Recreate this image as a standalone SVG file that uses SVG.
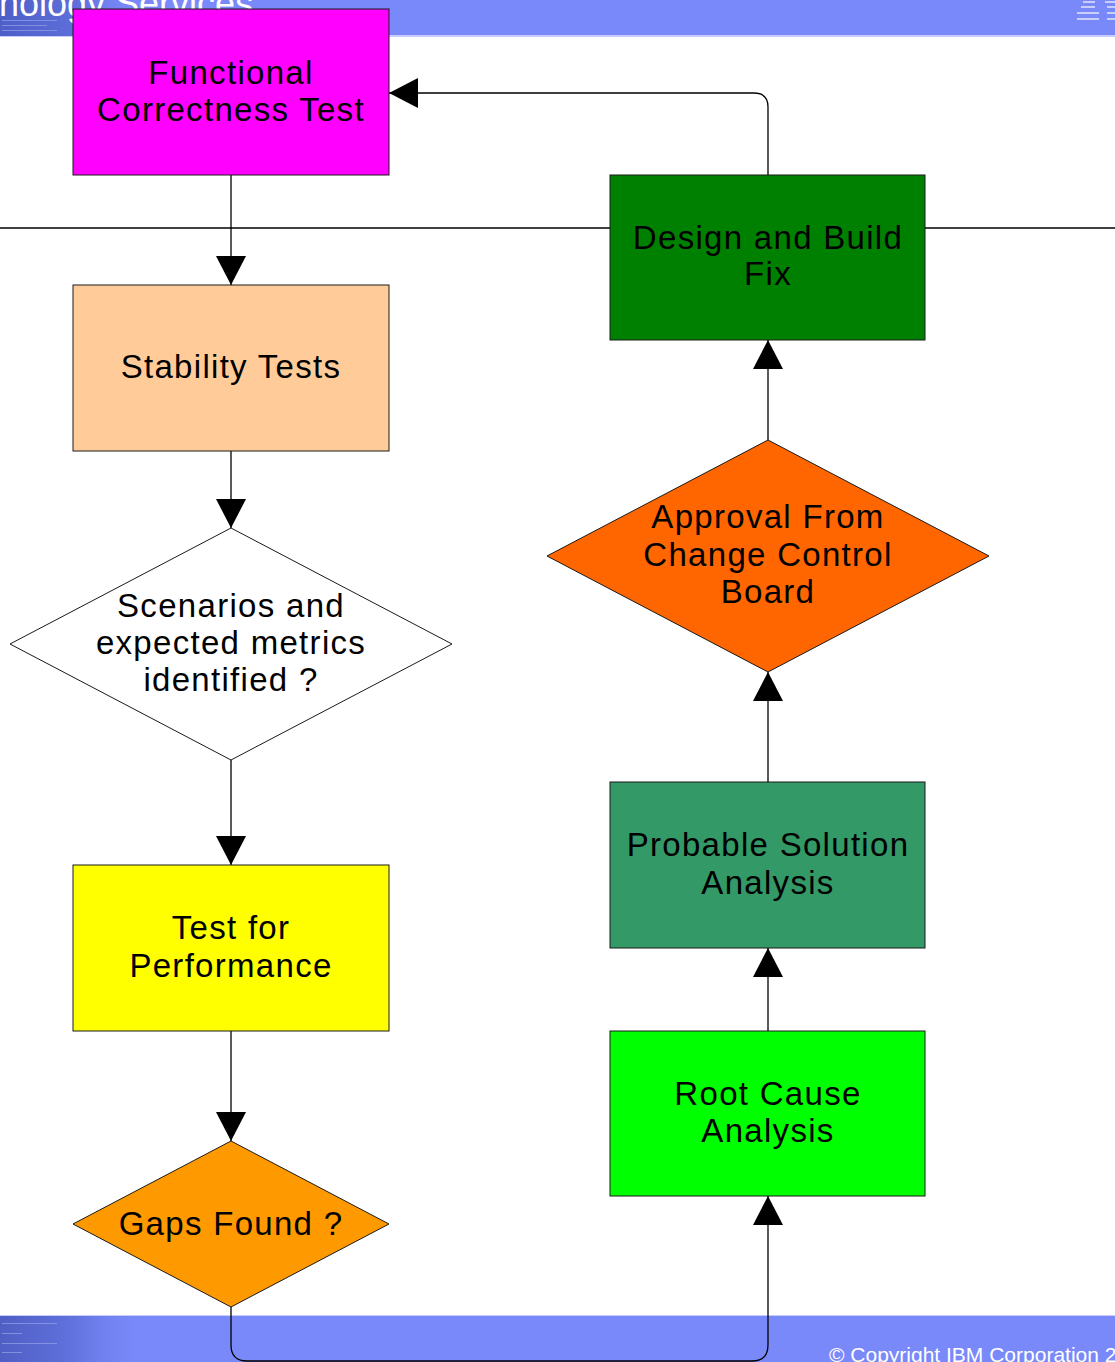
<svg xmlns="http://www.w3.org/2000/svg" width="1115" height="1362" viewBox="0 0 1115 1362">
  <defs>
    <marker id="arr" markerUnits="userSpaceOnUse" markerWidth="30" markerHeight="30" refX="29" refY="15" orient="auto">
      <path d="M0,0 L29,15 L0,30 Z" fill="#000"/>
    </marker>
    <linearGradient id="hdrL" x1="0" y1="0" x2="1" y2="0">
      <stop offset="0" stop-color="#4f5fc8"/>
      <stop offset="0.6" stop-color="#6070dc"/>
      <stop offset="1" stop-color="#7a89f9" stop-opacity="0"/>
    </linearGradient>
    <linearGradient id="ftrL" x1="0" y1="0" x2="1" y2="0">
      <stop offset="0" stop-color="#4f5fc4"/>
      <stop offset="0.5" stop-color="#6272de"/>
      <stop offset="1" stop-color="#7a89f9" stop-opacity="0"/>
    </linearGradient>
    <style>
      .node { stroke: #1a1a1a; stroke-width: 1; }
      .lbl { font-family: "Liberation Sans", Arial, sans-serif; font-size: 33px; letter-spacing: 1.3px; text-anchor: middle; fill: #000; }
      .conn { fill: none; stroke: #000; stroke-width: 1.3; }
      .deco { fill: #c9cff8; }
    </style>
  </defs>

  <!-- background bands -->
  <rect x="0" y="0" width="1115" height="1362" fill="#ffffff"/>
  <rect x="0" y="0" width="1115" height="36" fill="#7a89f9"/>
  <rect x="0" y="35" width="1115" height="2" fill="#c8cdfb"/>
  <rect x="0" y="0" width="140" height="36" fill="url(#hdrL)"/>
  <g fill="#8f9be6" opacity="0.8">
    <rect x="2" y="20" width="55" height="1"/>
    <rect x="2" y="25" width="45" height="1"/>
    <rect x="2" y="30" width="55" height="1"/>
  </g>
  <text x="-1" y="16" font-family="'Liberation Sans', Arial, sans-serif" font-size="36" fill="#ffffff">nology Services</text>
  <g class="deco">
    <rect x="1083" y="1" width="12" height="2"/>
    <rect x="1081" y="6" width="14" height="2"/>
    <rect x="1077" y="12" width="22" height="2"/>
    <rect x="1077" y="18" width="22" height="2"/>
    <rect x="1105" y="1" width="10" height="2"/>
    <rect x="1107" y="6" width="8" height="2"/>
    <rect x="1107" y="12" width="8" height="2"/>
    <rect x="1107" y="18" width="8" height="2"/>
  </g>

  <rect x="0" y="1315" width="1115" height="47" fill="#7a89f9"/>
  <rect x="0" y="1315" width="1115" height="1" fill="#c8cdfb"/>
  <rect x="0" y="1316" width="150" height="46" fill="url(#ftrL)"/>
  <g fill="#8f9be6" opacity="0.8">
    <rect x="2" y="1323" width="55" height="1"/>
    <rect x="2" y="1333" width="20" height="1"/>
    <rect x="2" y="1343" width="55" height="1"/>
    <rect x="2" y="1352" width="20" height="1"/>
  </g>
  <text x="829" y="1362" font-family="'Liberation Sans', Arial, sans-serif" font-size="21" fill="#ffffff">© Copyright IBM Corporation 2</text>

  <!-- separator line -->
  <line x1="0" y1="228" x2="1115" y2="228" stroke="#000" stroke-width="1.5"/>

  <!-- connectors -->
  <g id="connectors">
    <path class="conn" d="M231,175 L231,285" marker-end="url(#arr)"/>
    <path class="conn" d="M231,451 L231,528" marker-end="url(#arr)"/>
    <path class="conn" d="M231,760 L231,865" marker-end="url(#arr)"/>
    <path class="conn" d="M231,1031 L231,1141" marker-end="url(#arr)"/>
    <path class="conn" d="M231,1307 L231,1345 Q231,1361 247,1361 L752,1361 Q768,1361 768,1345 L768,1196" marker-end="url(#arr)"/>
    <path class="conn" d="M768,1031 L768,948" marker-end="url(#arr)"/>
    <path class="conn" d="M768,782 L768,672" marker-end="url(#arr)"/>
    <path class="conn" d="M768,440 L768,340" marker-end="url(#arr)"/>
    <path class="conn" d="M768,175 L768,107 Q768,93 754,93 L389,93" marker-end="url(#arr)"/>
  </g>

  <!-- nodes -->
  <g id="functional">
    <rect class="node" x="73" y="9" width="316" height="166" fill="#ff00ff"/>
    <text class="lbl" x="231" y="84">Functional</text>
    <text class="lbl" x="231" y="121">Correctness Test</text>
  </g>
  <g id="stability">
    <rect class="node" x="73" y="285" width="316" height="166" fill="#ffcc99"/>
    <text class="lbl" x="231" y="378">Stability Tests</text>
  </g>
  <g id="scenarios">
    <polygon class="node" points="231,528 452,644 231,760 10,644" fill="#ffffff"/>
    <text class="lbl" x="231" y="617">Scenarios and</text>
    <text class="lbl" x="231" y="654">expected metrics</text>
    <text class="lbl" x="231" y="691">identified ?</text>
  </g>
  <g id="performance">
    <rect class="node" x="73" y="865" width="316" height="166" fill="#ffff00"/>
    <text class="lbl" x="231" y="939">Test for</text>
    <text class="lbl" x="231" y="977">Performance</text>
  </g>
  <g id="gaps">
    <polygon class="node" points="231,1141 389,1224 231,1307 73,1224" fill="#ff9900"/>
    <text class="lbl" x="231" y="1235">Gaps Found ?</text>
  </g>
  <g id="design">
    <rect class="node" x="610" y="175" width="315" height="165" fill="#008000"/>
    <text class="lbl" x="768" y="249">Design and Build</text>
    <text class="lbl" x="768" y="285">Fix</text>
  </g>
  <g id="approval">
    <polygon class="node" points="768,440 989,556 768,672 547,556" fill="#ff6600"/>
    <text class="lbl" x="768" y="528">Approval From</text>
    <text class="lbl" x="768" y="566">Change Control</text>
    <text class="lbl" x="768" y="603">Board</text>
  </g>
  <g id="probable">
    <rect class="node" x="610" y="782" width="315" height="166" fill="#339966"/>
    <text class="lbl" x="768" y="856">Probable Solution</text>
    <text class="lbl" x="768" y="894">Analysis</text>
  </g>
  <g id="rootcause">
    <rect class="node" x="610" y="1031" width="315" height="165" fill="#00ff00"/>
    <text class="lbl" x="768" y="1105">Root Cause</text>
    <text class="lbl" x="768" y="1142">Analysis</text>
  </g>
</svg>
